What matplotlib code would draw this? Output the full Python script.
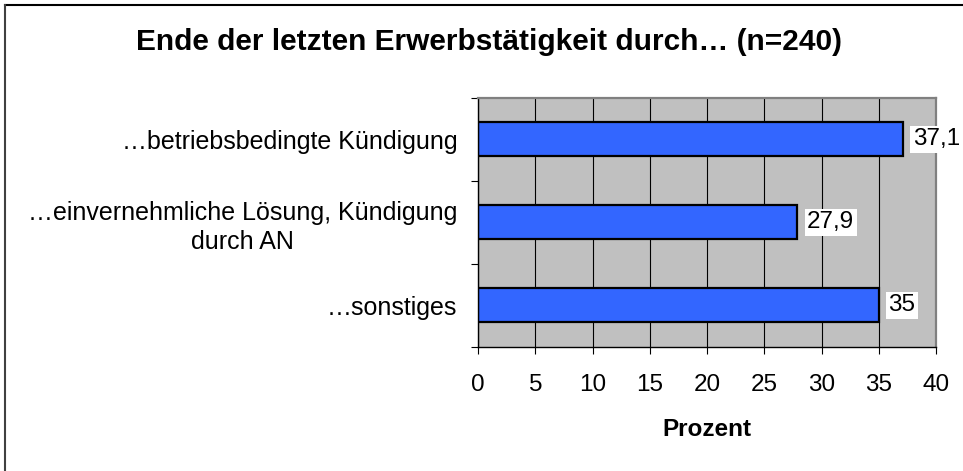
import matplotlib.pyplot as plt
from matplotlib.lines import Line2D

# data
categories = ['…betriebsbedingte Kündigung',
              '…einvernehmliche Lösung, Kündigung\ndurch AN',
              '…sonstiges']
values = [37.1, 27.9, 35]
value_labels = ['37,1', '27,9', '35']
xticks = [0, 5, 10, 15, 20, 25, 30, 35, 40]

plt.rcParams['font.family'] = ['Liberation Sans', 'DejaVu Sans']
fs = 17.5

fig = plt.figure(figsize=(9.63, 4.71), dpi=100)
ax = fig.add_axes([0.4964, 0.2633, 0.4756, 0.5287])

# frame of the screenshot (only top and left edges are visible)
fig.lines.append(Line2D([0.0057, 1.0], [0.9885, 0.9885], transform=fig.transFigure,
                        color='black', linewidth=1.5))
fig.lines.append(Line2D([0.0057, 0.0057], [0.0, 0.9885], transform=fig.transFigure,
                        color='#404040', linewidth=1.5))

ax.set_facecolor('#C0C0C0')
ax.set_axisbelow(True)
ax.grid(axis='x', color='black', linewidth=0.8)

pos = list(range(len(categories)))
ax.barh(pos, values, height=0.41, color='#3366FF', edgecolor='black', linewidth=1.6)

for p, v, lab in zip(pos, values, value_labels):
    ax.text(v + 0.85, p, lab, va='center', ha='left', fontsize=fs,
            bbox=dict(facecolor='white', edgecolor='none', pad=1.5), clip_on=False)

ax.set_xlim(0, 40)
ax.set_ylim(2.5, -0.5)
ax.set_xticks(xticks)
ax.set_xticklabels([str(t) for t in xticks], fontsize=fs)
ax.set_yticks(pos)
ax.set_yticklabels(categories, fontsize=18, multialignment='center', linespacing=1.25)
ax.set_yticks([-0.5, 0.5, 1.5, 2.5], minor=True)
ax.tick_params(axis='y', which='major', length=0, pad=15)
ax.tick_params(axis='y', which='minor', length=5, width=0.8, direction='out')
ax.tick_params(axis='x', length=5, width=0.8, direction='out', pad=14.5)

ax.set_xlabel('Prozent', fontsize=fs, fontweight='bold', labelpad=16)

for side in ['left', 'bottom']:
    ax.spines[side].set_color('black')
    ax.spines[side].set_linewidth(1.0)
for side in ['top', 'right']:
    ax.spines[side].set_color('#808080')
    ax.spines[side].set_linewidth(1.6)

fig.text(0.508, 0.91, 'Ende der letzten Erwerbstätigkeit durch… (n=240)',
         ha='center', va='center', fontsize=21.5, fontweight='bold')

fig.savefig('out.png', dpi=100, facecolor='white')
